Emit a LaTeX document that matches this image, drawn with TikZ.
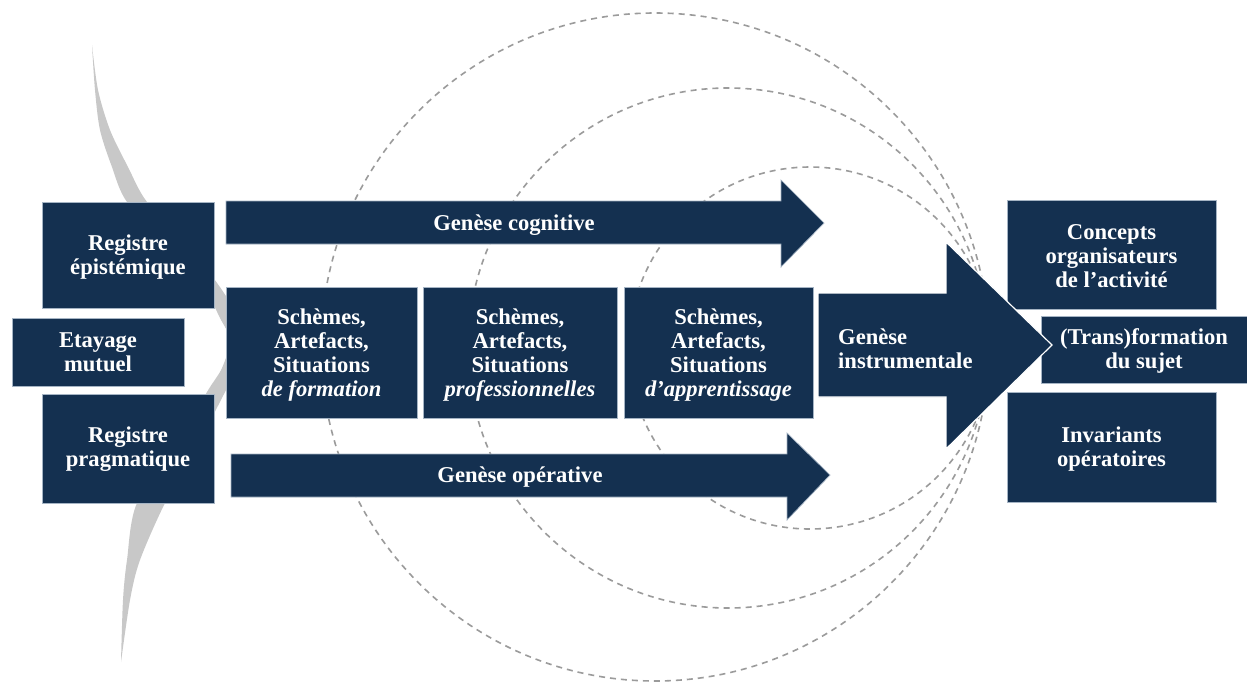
\documentclass[tikz,border=0pt]{standalone}
\usepackage{fontspec}
\setmainfont{Liberation Serif}
\definecolor{navy}{RGB}{20,48,80}
\definecolor{navyedge}{RGB}{165,180,196}
\definecolor{dashgray}{RGB}{155,155,155}
\definecolor{crescentgray}{RGB}{200,200,200}
\begin{document}
\begin{tikzpicture}[x=1pt,y=-1pt,
  box/.style={fill=navy, draw=navyedge, line width=0.7pt},
  lbl/.style={text=white, font=\fontsize{22.6}{24}\selectfont\bfseries, align=center, inner sep=0pt},
  circ/.style={draw=dashgray, dash pattern=on 6pt off 5pt, line width=1.6pt}]
\useasboundingbox (0,0) rectangle (1247,681);
\fill[white] (0,0) rectangle (1247,681);

% crescent
\fill[crescentgray] plot[smooth] coordinates {(92,45) (98,90) (110,130) (128,167) (147,202) (190,248) (222,290) (238,318) (245,340) (238,365) (224,394) (200,440) (165,503) (140,560) (130,600) (121,662)}
  -- plot[smooth] coordinates {(121,662) (123,600) (127,560) (137,503) (180,440) (207,392) (222,368) (230,340) (220,318) (205,290) (172,252) (127,202) (112,167) (100,130) (95,90) (92,45)} -- cycle;

% dashed circles
\draw[circ] (655,347) circle [radius=334pt];
\draw[circ] (728,348) circle [radius=260pt];
\draw[circ] (810,348) circle [radius=181pt];

% left boxes
\draw[box] (42,202) rectangle (214,308);
\node[lbl] (epi) at (128,257) {Registre\\épistémique};
\draw[box] (12,318) rectangle (184,386);
\node[lbl] (eta) at (98,352) {Etayage\\mutuel};
\draw[box] (42,394) rectangle (214,503);
\node[lbl] (prag) at (128,449) {Registre\\pragmatique};

% genese cognitive
\draw[box] (226,201) -- (781,201) -- (781,180) -- (824,223) -- (781,267) -- (781,244) -- (226,244) -- cycle;
\node[lbl] (cog) at (514,225) {Genèse cognitive};

% genese operative
\draw[box] (231,454) -- (787,454) -- (787,433) -- (830,475) -- (787,520) -- (787,497) -- (231,497) -- cycle;
\node[lbl] (ope) at (520,477) {Genèse opérative};

% schemes boxes
\draw[box] (226,287) rectangle (417,418);
\node[lbl] (s1) at (321.5,355) {Schèmes,\\Artefacts,\\Situations\\\textit{de formation}};
\draw[box] (423,287) rectangle (617,418);
\node[lbl] (s2) at (520,355) {Schèmes,\\Artefacts,\\Situations\\\textit{professionnelles}};
\draw[box] (624,287) rectangle (813,418);
\node[lbl] (s3) at (718.5,355) {Schèmes,\\Artefacts,\\Situations\\\textit{d’apprentissage}};

% right boxes
\draw[box] (1007,200) rectangle (1216,309);
\node[lbl] (conc) at (1111.5,256) {Concepts\\organisateurs\\de l’activité};
\draw[box] (1041,316) rectangle (1250,383);
\node[lbl] (trans) at (1144,351) {(Trans)formation\\du sujet};
\draw[box] (1007,392) rectangle (1216,502);
\node[lbl] (inv) at (1111.5,449) {Invariants\\opératoires};

% genese instrumentale
\draw[box, draw=white, line width=1.2pt] (818,293) -- (946,293) -- (946,242) -- (1052,345) -- (946,449) -- (946,397) -- (818,397) -- cycle;
\node[lbl, align=left, anchor=west] (instr) at (838,349) {Genèse\\instrumentale};
\end{tikzpicture}
\end{document}
